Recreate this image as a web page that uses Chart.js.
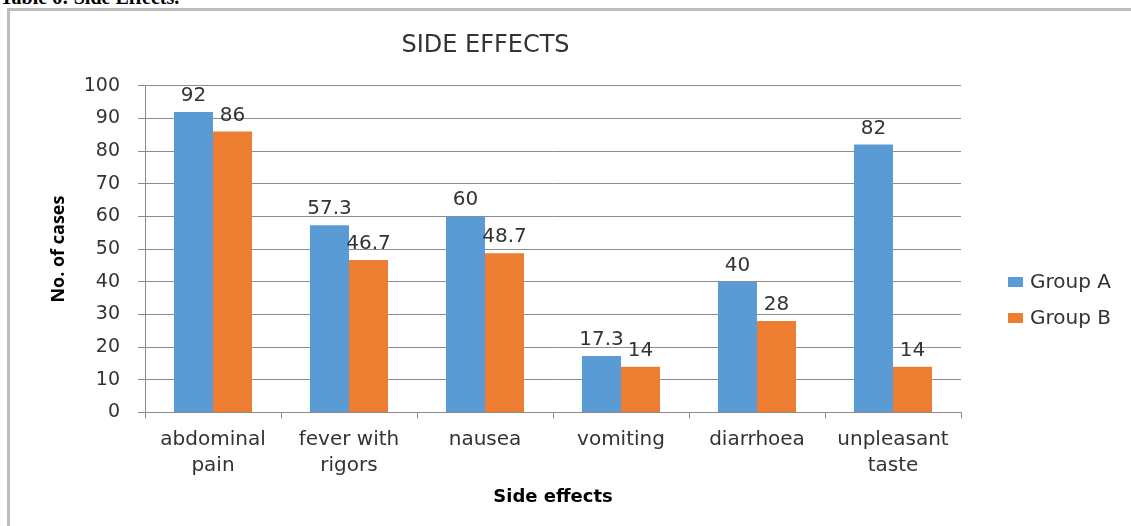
<!DOCTYPE html>
<html>
<head>
<meta charset="utf-8">
<script src="https://cdn.jsdelivr.net/npm/chart.js@4"></script>
<style>
    body { margin: 0; width: 1131px; height: 526px; overflow: hidden; background: #fff; position: relative; }
    #caption { position: absolute; left: 0; top: -14px; font: bold 20px "Liberation Serif", serif; color: #000; white-space: nowrap; }
    #frame { position: absolute; left: 7px; top: 8px; width: 1200px; height: 600px; border-top: 3px solid #bdbdbd; border-left: 3px solid #bdbdbd; }
    #wrap { position: absolute; left: 0; top: 0; width: 1131px; height: 526px; }
    #legend { position: absolute; left: 1008px; top: 268px; font: 20px "DejaVu Sans", sans-serif; color: #333; }
    #legend div { height: 36px; line-height: 26px; white-space: nowrap; }
    #legend span { display: inline-block; width: 15px; height: 10px; margin-right: 7px; vertical-align: 1px; }
</style>
</head>
<body>
<div id="caption">Table 6: Side Effects.</div>
<div id="frame"></div>
<div id="wrap"><canvas id="barChart"></canvas></div>
<div id="legend"></div>
<script>
const $ = id => document.getElementById(id);

// 数据
const categories = [['abdominal', 'pain'], ['fever with', 'rigors'], 'nausea', 'vomiting', 'diarrhoea', ['unpleasant', 'taste']];
const groupA = [92, 57.3, 60, 17.3, 40, 82];
const groupB = [86, 46.7, 48.7, 14, 28, 14];
const seriesNames = ['Group A', 'Group B'];
const seriesColors = ['#5B9BD5', '#ED7D31'];
const yTicks = [0, 10, 20, 30, 40, 50, 60, 70, 80, 90, 100];

// 柱顶数值
const valueLabels = {
    id: 'valueLabels',
    afterDatasetsDraw(chart) {
        const ctx = chart.ctx;
        ctx.save();
        ctx.font = '20px "DejaVu Sans", sans-serif';
        ctx.fillStyle = '#333';
        ctx.textAlign = 'center';
        ctx.textBaseline = 'alphabetic';
        chart.data.datasets.forEach((ds, i) => {
            chart.getDatasetMeta(i).data.forEach((bar, j) => {
                ctx.fillText(String(ds.data[j]), bar.x, bar.y - 11);
            });
        });
        ctx.restore();
    }
};

window.onload = () => {
    $('legend').innerHTML = seriesNames.map((n, i) =>
        `<div><span style="background:${seriesColors[i]}"></span>${n}</div>`).join('');

    new Chart($('barChart').getContext('2d'), {
        type: 'bar',
        data: {
            labels: categories,
            datasets: [
                { label: seriesNames[0], data: groupA, backgroundColor: seriesColors[0] },
                { label: seriesNames[1], data: groupB, backgroundColor: seriesColors[1] }
            ]
        },
        options: {
            responsive: true,
            maintainAspectRatio: false,
            animation: false,
            layout: { padding: { left: 10, right: 170, top: 0, bottom: 0 } },
            categoryPercentage: 0.574,
            barPercentage: 1,
            plugins: {
                legend: { display: false },
                tooltip: { enabled: false },
                title: {
                    display: true,
                    text: 'SIDE EFFECTS',
                    color: '#333',
                    font: { family: '"DejaVu Sans", sans-serif', size: 24, weight: 'normal', lineHeight: 1.2 },
                    padding: { top: 31, bottom: 26 }
                }
            },
            scales: {
                x: {
                    grid: { offset: true, drawOnChartArea: false, drawTicks: true, tickLength: 6, color: '#8c8c8c' },
                    border: { color: '#8c8c8c' },
                    ticks: { color: '#333', padding: 8, maxRotation: 0, font: { family: '"DejaVu Sans", sans-serif', size: 20, lineHeight: 1.3 } },
                    title: {
                        display: true,
                        text: 'Side effects',
                        color: '#000',
                        font: { family: '"DejaVu Sans", sans-serif', size: 18, weight: 'bold', lineHeight: 1.2 },
                        padding: { top: 0, bottom: 18 }
                    }
                },
                y: {
                    min: 0,
                    max: 100,
                    afterFit: s => { s.width = 135; },
                    afterBuildTicks: s => { s.ticks = yTicks.map(v => ({ value: v })); },
                    grid: { color: '#8c8c8c', tickLength: 7 },
                    border: { color: '#8c8c8c' },
                    ticks: { color: '#333', padding: 18, font: { family: '"DejaVu Sans", sans-serif', size: 19 } },
                    title: {
                        display: true,
                        text: 'No. of cases',
                        color: '#000',
                        font: { family: '"Open Sans", sans-serif', size: 18, weight: 'bold', lineHeight: 1.2 },
                        padding: { top: 38, bottom: 10 }
                    }
                }
            }
        },
        plugins: [valueLabels]
    });
}
</script>
</body>
</html>
